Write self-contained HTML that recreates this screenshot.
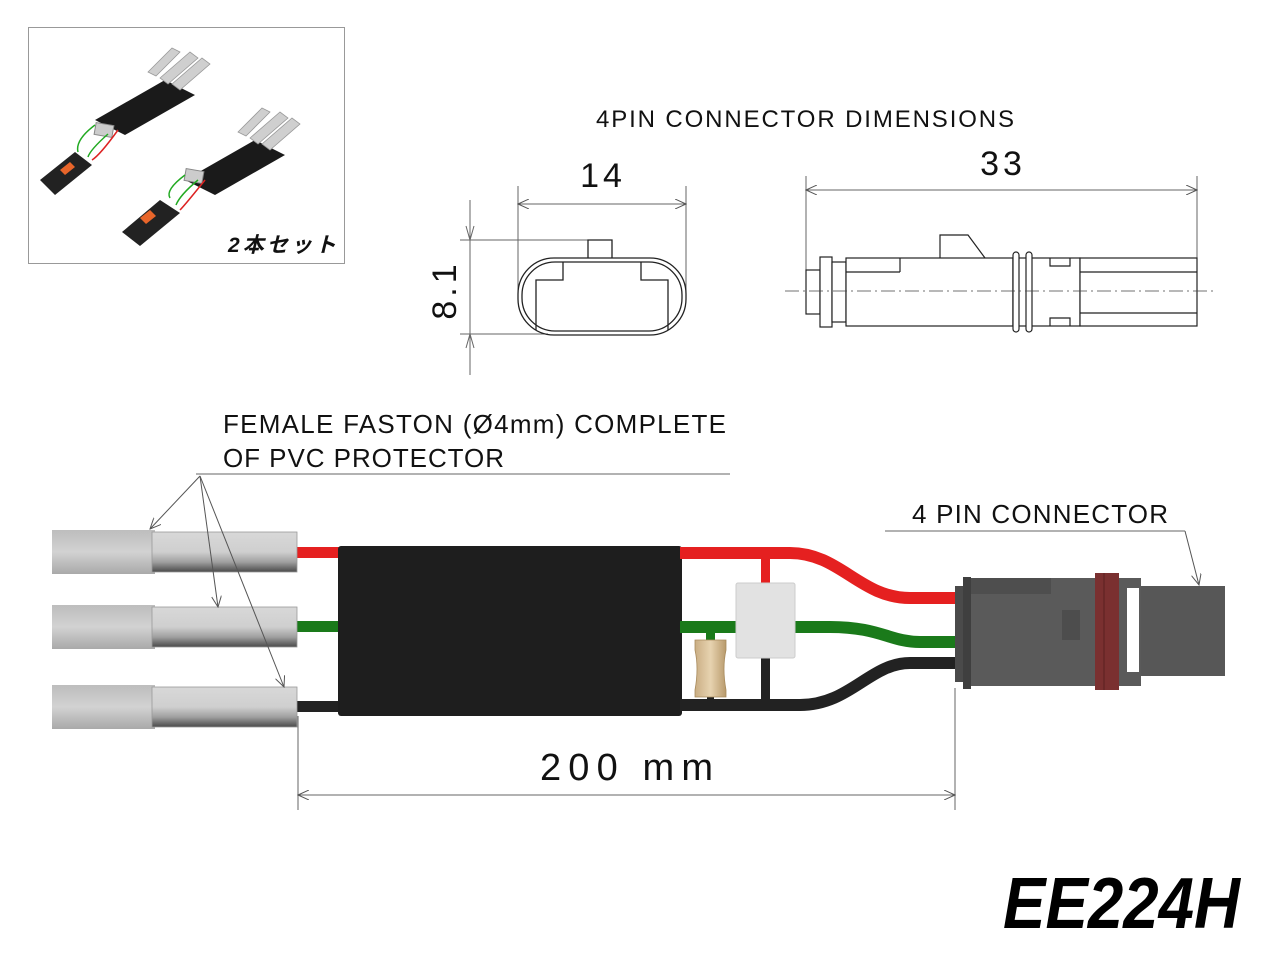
<!DOCTYPE html>
<html><head><meta charset="utf-8"><style>
html,body{margin:0;padding:0;background:#fff;}
svg{display:block;font-family:"Liberation Sans","Noto Sans CJK JP",sans-serif;}
</style></head><body>
<svg width="1280" height="960" viewBox="0 0 1280 960" xmlns="http://www.w3.org/2000/svg">
<defs>
<linearGradient id="fa" x1="0" y1="0" x2="0" y2="1"><stop offset="0" stop-color="#bdbdbd"/><stop offset="0.5" stop-color="#d2d2d2"/><stop offset="1" stop-color="#a9a9a9"/></linearGradient>
<linearGradient id="fb" x1="0" y1="0" x2="0" y2="1"><stop offset="0" stop-color="#d8d8d8"/><stop offset="0.5" stop-color="#cfcfcf"/><stop offset="0.75" stop-color="#a0a0a0"/><stop offset="1" stop-color="#4a4a4a"/></linearGradient>
<linearGradient id="tan" x1="0" y1="0" x2="1" y2="0"><stop offset="0" stop-color="#c9ad83"/><stop offset="0.5" stop-color="#e7d3b0"/><stop offset="1" stop-color="#b89a6c"/></linearGradient>
<marker id="ah" markerWidth="12" markerHeight="10" refX="11" refY="5" orient="auto-start-reverse" markerUnits="userSpaceOnUse"><path d="M0,0 L11,5 L0,10" fill="none" stroke="#555" stroke-width="1"/></marker>
</defs>

<!-- inset -->
<rect x="28.5" y="27.5" width="316" height="236" fill="#fff" stroke="#999"/>
<g>
 <polygon points="95,120 165,80 195,95 125,135" fill="#1a1a1a"/>
 <polygon points="185,180 255,140 285,155 215,195" fill="#1a1a1a"/>
 <g fill="#cfcfcf" stroke="#999" stroke-width="0.8">
  <polygon points="148,72 172,48 180,52 156,76"/><polygon points="160,78 190,52 198,58 168,84"/><polygon points="172,84 202,58 210,64 180,90"/>
  <polygon points="238,132 262,108 270,112 246,136"/><polygon points="250,138 280,112 288,118 258,144"/><polygon points="262,144 292,118 300,124 270,150"/>
 </g>
 <rect x="95" y="124" width="18" height="12" fill="#ccc" stroke="#888" transform="rotate(10 104 130)"/>
 <rect x="185" y="170" width="18" height="12" fill="#ccc" stroke="#888" transform="rotate(10 194 176)"/>
 <path d="M95,125 Q75,140 78,152 M108,134 Q90,150 88,157" stroke="#2a2" fill="none" stroke-width="1.5"/>
 <path d="M118,130 Q100,155 92,160" stroke="#d22" fill="none" stroke-width="1.5"/>
 <polygon points="40,180 75,152 92,165 55,195" fill="#222"/>
 <polygon points="60,170 70,162 75,167 65,175" fill="#e8652a"/>
 <path d="M185,175 Q165,190 170,198 M198,180 Q180,195 176,205" stroke="#2a2" fill="none" stroke-width="1.5"/>
 <path d="M205,180 Q185,205 180,210" stroke="#d22" fill="none" stroke-width="1.5"/>
 <polygon points="122,232 160,200 180,213 140,246" fill="#222"/>
 <polygon points="140,218 150,210 156,216 146,224" fill="#e8652a"/>
 <text x="228" y="252" font-size="21" font-weight="bold" font-style="italic" fill="#111" textLength="108">2本セット</text>
</g>

<text x="596" y="127" font-size="24" fill="#111" textLength="418">4PIN CONNECTOR DIMENSIONS</text>

<g stroke="#666" stroke-width="1" fill="none">
 <line x1="518" y1="186" x2="518" y2="300"/><line x1="686" y1="186" x2="686" y2="300"/>
 <line x1="518" y1="204" x2="686" y2="204" marker-start="url(#ah)" marker-end="url(#ah)"/>
 <line x1="470" y1="200" x2="470" y2="375"/>
 <line x1="460" y1="240" x2="612" y2="240"/><line x1="460" y1="334" x2="548" y2="334"/>
 <path d="M466,226 L470,240 L474,226 M466,348 L470,334 L474,348"/>
 <line x1="806" y1="176" x2="806" y2="302"/><line x1="1197" y1="176" x2="1197" y2="262"/>
 <line x1="806" y1="190" x2="1197" y2="190" marker-start="url(#ah)" marker-end="url(#ah)"/>
</g>
<text x="603" y="187" font-size="34" text-anchor="middle" fill="#111" letter-spacing="4">14</text>
<text x="1003" y="175" font-size="34" text-anchor="middle" fill="#111" letter-spacing="4">33</text>
<text transform="translate(456,290) rotate(-90)" font-size="34" text-anchor="middle" fill="#111" letter-spacing="4">8.1</text>

<g stroke="#222" stroke-width="1.3" fill="none">
 <rect x="518" y="258" width="168" height="77" rx="36"/>
 <rect x="522" y="262" width="160" height="69" rx="33"/>
 <path d="M588,258 V240 H612 V258"/>
 <path d="M563,262 V280 H536 V330 M641,262 V280 H668 V330"/>
</g>
<g stroke="#222" stroke-width="1.2" fill="#fff">
 <rect x="806" y="270" width="14" height="44"/>
 <rect x="820" y="257" width="12" height="70"/>
 <rect x="832" y="262" width="14" height="60"/>
 <rect x="846" y="258" width="167" height="68"/>
 <line x1="846" y1="272" x2="900" y2="272"/><line x1="900" y1="258" x2="900" y2="272"/>
 <path d="M940,258 V235 H968 L985,258" fill="none"/>
 <rect x="1013" y="258" width="67" height="68"/>
 <rect x="1013" y="252" width="6" height="80" rx="3"/>
 <rect x="1026" y="252" width="6" height="80" rx="3"/>
 <path d="M1050,258 V266 H1070 V258 M1050,326 V318 H1070 V326" fill="none"/>
 <rect x="1080" y="258" width="117" height="68"/>
 <line x1="1080" y1="272" x2="1197" y2="272"/><line x1="1080" y1="313" x2="1197" y2="313"/>
</g>
<line x1="785" y1="291" x2="1215" y2="291" stroke="#444" stroke-width="0.8" stroke-dasharray="14,4,2,4"/>

<text x="223" y="433" font-size="26" fill="#111" textLength="503">FEMALE FASTON (Ø4mm) COMPLETE</text>
<text x="223" y="467" font-size="26" fill="#111" textLength="281">OF PVC PROTECTOR</text>
<line x1="196" y1="474" x2="730" y2="474" stroke="#666" stroke-width="1"/>

<rect x="297" y="547" width="45" height="11" fill="#e52020"/>
<rect x="297" y="621" width="45" height="11" fill="#1a7a1a"/>
<rect x="297" y="701" width="45" height="11" fill="#222"/>

<g>
 <g transform="translate(0,552)">
  <rect x="52" y="-22" width="103" height="44" fill="url(#fa)"/>
  <rect x="152" y="-20" width="145" height="40" fill="url(#fb)" stroke="#999" stroke-width="0.8"/>
 </g>
 <g transform="translate(0,627)">
  <rect x="52" y="-22" width="103" height="44" fill="url(#fa)"/>
  <rect x="152" y="-20" width="145" height="40" fill="url(#fb)" stroke="#999" stroke-width="0.8"/>
 </g>
 <g transform="translate(0,707)">
  <rect x="52" y="-22" width="103" height="44" fill="url(#fa)"/>
  <rect x="152" y="-20" width="145" height="40" fill="url(#fb)" stroke="#999" stroke-width="0.8"/>
 </g>
</g>
<g stroke="#555" stroke-width="1" fill="none">
 <line x1="200" y1="476" x2="150" y2="529" marker-end="url(#ah)"/>
 <line x1="200" y1="476" x2="218" y2="607" marker-end="url(#ah)"/>
 <line x1="200" y1="476" x2="284" y2="687" marker-end="url(#ah)"/>
</g>

<rect x="338" y="546" width="344" height="170" rx="3" fill="#1e1e1e"/>

<g fill="none" stroke-width="12">
 <path d="M680,553 H790 C840,553 860,598 910,598 H960" stroke="#e52020"/>
 <path d="M680,627 H830 C880,627 890,642 920,642 H960" stroke="#1a7a1a"/>
 <path d="M680,705 H800 C850,705 870,663 910,663 H960" stroke="#222"/>
</g>
<rect x="761" y="558" width="9" height="28" fill="#e52020"/>
<rect x="761" y="656" width="9" height="48" fill="#222"/>
<rect x="706" y="628" width="9" height="14" fill="#1a7a1a"/>
<rect x="707" y="690" width="7" height="14" fill="#222"/>
<rect x="736" y="583" width="59" height="75" rx="2" fill="#e2e2e2" stroke="#ccc"/>
<path d="M695,640 H726 V650 Q722,668 726,690 V697 H695 V690 Q699,668 695,650 Z" fill="url(#tan)" stroke="#a88a5c" stroke-width="0.8"/>

<rect x="955" y="586" width="12" height="96" fill="#4a4a4a"/>
<rect x="963" y="577" width="8" height="112" fill="#3f3f3f"/>
<rect x="971" y="578" width="170" height="108" fill="#5a5a5a"/>
<rect x="971" y="578" width="80" height="16" fill="#4e4e4e"/>
<rect x="1062" y="610" width="18" height="30" fill="#4d4d4d"/>
<rect x="1095" y="573" width="24" height="117" fill="#7a3030"/>
<line x1="1104" y1="573" x2="1104" y2="690" stroke="#5a2020"/>
<rect x="1127" y="588" width="12" height="84" fill="#fff"/>
<rect x="1141" y="586" width="84" height="90" fill="#575757"/>

<text x="912" y="523" font-size="26" fill="#111" textLength="256">4 PIN CONNECTOR</text>
<line x1="885" y1="531" x2="1185" y2="531" stroke="#666" stroke-width="1"/>
<line x1="1185" y1="531" x2="1199" y2="585" stroke="#555" stroke-width="1" marker-end="url(#ah)"/>

<g stroke="#666" stroke-width="1" fill="none">
 <line x1="298" y1="716" x2="298" y2="810"/>
 <line x1="955" y1="688" x2="955" y2="810"/>
 <line x1="298" y1="795" x2="955" y2="795" marker-start="url(#ah)" marker-end="url(#ah)"/>
</g>
<text x="540" y="780" font-size="38" fill="#111" textLength="173">200 mm</text>

<text x="1003" y="928" font-size="72" font-weight="bold" font-style="italic" fill="#000" textLength="237" lengthAdjust="spacingAndGlyphs">EE224H</text>
</svg>
</body></html>
